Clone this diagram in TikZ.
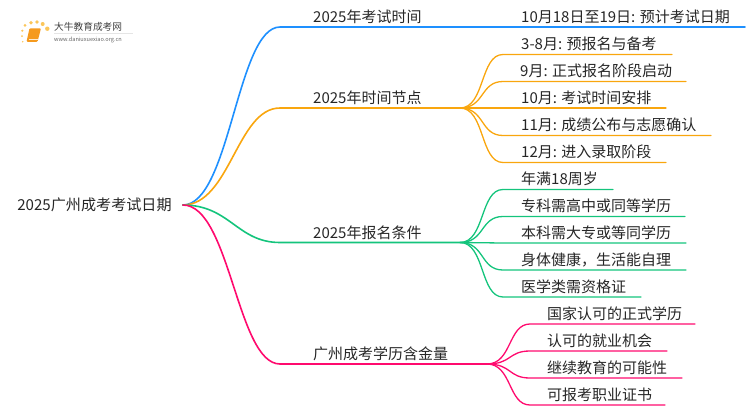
\documentclass[tikz,border=0pt]{standalone}
\usepackage{fontspec}
\setmainfont{Noto Sans CJK SC}
\definecolor{lineblue}{HTML}{1E90FF}
\definecolor{lineorange}{HTML}{F9A60E}
\definecolor{linegreen}{HTML}{14C47C}
\definecolor{linepink}{HTML}{FF0A6E}
\definecolor{txtdark}{HTML}{262626}
\definecolor{logobook}{HTML}{F59A1E}
\definecolor{logodot}{HTML}{FBC65A}
\tikzset{
	rootnode/.style={font=\fontsize{15.1}{18}\selectfont, text=txtdark, inner xsep=11pt, inner ysep=2pt},
	label/.style={font=\fontsize{15}{18}\selectfont, text=txtdark, anchor=base west, inner sep=0pt},
	branch/.style={line width=1.6pt, line cap=round},
	twig/.style={line width=1.3pt, line cap=round}
}
\begin{document}
\begin{tikzpicture}[x=1pt, y=-1pt]
	%%%%% START %%%%%
	\useasboundingbox (0, 0) rectangle (750, 410);

	\node[rootnode] (root) at (94.5, 205) {2025广州成考考试日期};

	% logo
	\fill[logobook, rounded corners=1pt] (29.5, 28.3) -- (41, 28.3) -- (37.5, 41.8) -- (26.5, 41.8) -- cycle;
	\draw[white!80!logobook, line width=0.6pt] (28.5, 39.5) -- (37.5, 39.5);
	\fill[logodot] (25, 25.3) circle (1.5);
	\fill[logodot] (31, 22.7) circle (1.8);
	\fill[logodot] (37, 22) circle (1.9);
	\fill[logodot] (42.7, 24) circle (2);
	\fill[logodot] (47.3, 28.7) circle (2.2);
	\fill[logodot] (22.3, 30.7) circle (1.2);
	\fill[logodot] (22, 36) circle (1);
	\fill[logodot] (22.7, 41.7) circle (0.8);
	\node[font=\fontsize{9.7}{11}\selectfont, text=black!75, anchor=base west, inner sep=0pt] (logoname) at (54, 30.5) {大牛教育成考网};
	\node[font=\fontsize{5.6}{7}\selectfont, text=black!60, anchor=base west, inner sep=0pt] (logourl) at (54, 41) {www.daniuxuexiao.org.cn};
	\draw[black!10, line width=0.5pt] (54, 33.5) -- (133, 33.5);

	% first branch
	\coordinate (timehub) at (280, 27);
	\coordinate (timeend) at (745, 27);
	\node[label] (timetitle) at (313, 22) {2025年考试时间};
	\node[label] (timeleaf) at (521, 22) {10月18日至19日: 预计考试日期};
	\draw[branch, lineblue] (root.east) .. controls (230, 205) and (237, 27) .. (timehub) -- (timeend);

	% second branch
	\coordinate (nodehubl) at (280, 108);
	\coordinate (nodehub) at (460, 108);
	\node[label] (nodetitle) at (313, 103) {2025年时间节点};
	\draw[branch, lineorange] (root.east) .. controls (230, 205) and (237, 108) .. (nodehubl) -- (nodehub);

	\coordinate (nodeas) at (503, 54.5);
	\coordinate (nodeae) at (672, 54.5);
	\coordinate (nodebs) at (503, 81.5);
	\coordinate (nodebe) at (686, 81.5);
	\coordinate (nodecs) at (503, 108);
	\coordinate (nodece) at (666, 108);
	\coordinate (nodeds) at (503, 135.5);
	\coordinate (nodede) at (711, 135.5);
	\coordinate (nodees) at (503, 162.5);
	\coordinate (nodeee) at (666, 162.5);
	\node[label] (nodea) at (521, 49.5) {3-8月: 预报名与备考};
	\node[label] (nodeb) at (520, 76.5) {9月: 正式报名阶段启动};
	\node[label] (nodec) at (521, 103) {10月: 考试时间安排};
	\node[label] (noded) at (521, 130.5) {11月: 成绩公布与志愿确认};
	\node[label] (nodee) at (521, 157.5) {12月: 进入录取阶段};
	\draw[twig, lineorange] (nodehub) .. controls (485, 108) and (480, 54.5) .. (nodeas) -- (nodeae);
	\draw[twig, lineorange] (nodehub) .. controls (485, 108) and (480, 81.5) .. (nodebs) -- (nodebe);
	\draw[twig, lineorange] (nodehub) -- (nodecs) -- (nodece);
	\draw[twig, lineorange] (nodehub) .. controls (485, 108) and (480, 135.5) .. (nodeds) -- (nodede);
	\draw[twig, lineorange] (nodehub) .. controls (485, 108) and (480, 162.5) .. (nodees) -- (nodeee);

	% third branch
	\coordinate (condhubl) at (280, 242.5);
	\coordinate (condhub) at (460, 242.5);
	\node[label] (condtitle) at (313, 238) {2025年报名条件};
	\draw[branch, linegreen] (root.east) .. controls (230, 205) and (237, 242.5) .. (condhubl) -- (condhub);

	\coordinate (condas) at (503, 189.5);
	\coordinate (condae) at (613, 189.5);
	\coordinate (condbs) at (503, 216.5);
	\coordinate (condbe) at (685, 216.5);
	\coordinate (condcs) at (503, 243);
	\coordinate (condce) at (686, 243);
	\coordinate (condds) at (503, 270);
	\coordinate (condde) at (686, 270);
	\coordinate (condes) at (503, 297);
	\coordinate (condee) at (641, 297);
	\node[label] (conda) at (521, 184.5) {年满18周岁};
	\node[label] (condb) at (521, 211.5) {专科需高中或同等学历};
	\node[label] (condc) at (521, 238) {本科需大专或等同学历};
	\node[label] (condd) at (521, 265) {身体健康，生活能自理};
	\node[label] (conde) at (521, 292) {医学类需资格证};
	\draw[twig, linegreen] (condhub) .. controls (485, 242.5) and (480, 189.5) .. (condas) -- (condae);
	\draw[twig, linegreen] (condhub) .. controls (485, 242.5) and (480, 216.5) .. (condbs) -- (condbe);
	\draw[twig, linegreen] (condhub) -- (condcs) -- (condce);
	\draw[twig, linegreen] (condhub) .. controls (485, 242.5) and (480, 270) .. (condds) -- (condde);
	\draw[twig, linegreen] (condhub) .. controls (485, 242.5) and (480, 297) .. (condes) -- (condee);

	% fourth branch
	\coordinate (valuehubl) at (280, 364);
	\coordinate (valuehub) at (487, 364);
	\node[label] (valuetitle) at (313, 359) {广州成考学历含金量};
	\draw[branch, linepink] (root.east) .. controls (230, 205) and (237, 364) .. (valuehubl) -- (valuehub);

	\coordinate (valueas) at (530, 324);
	\coordinate (valueae) at (695, 324);
	\coordinate (valuebs) at (530, 351);
	\coordinate (valuebe) at (667, 351);
	\coordinate (valuecs) at (530, 378);
	\coordinate (valuece) at (682, 378);
	\coordinate (valueds) at (530, 405);
	\coordinate (valuede) at (665, 405);
	\node[label] (valuea) at (547, 319) {国家认可的正式学历};
	\node[label] (valueb) at (547, 346) {认可的就业机会};
	\node[label] (valuec) at (547, 373) {继续教育的可能性};
	\node[label] (valued) at (547, 400) {可报考职业证书};
	\draw[twig, linepink] (valuehub) .. controls (512, 364) and (508, 324) .. (valueas) -- (valueae);
	\draw[twig, linepink] (valuehub) .. controls (512, 364) and (508, 351) .. (valuebs) -- (valuebe);
	\draw[twig, linepink] (valuehub) .. controls (512, 364) and (508, 378) .. (valuecs) -- (valuece);
	\draw[twig, linepink] (valuehub) .. controls (512, 364) and (508, 405) .. (valueds) -- (valuede);
	%%%%% END %%%%%
\end{tikzpicture}
\end{document}
